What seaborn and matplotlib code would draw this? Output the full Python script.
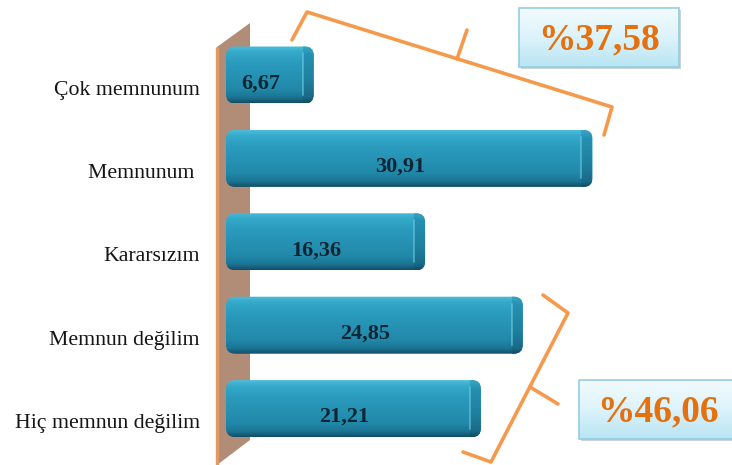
import numpy as np
import pandas as pd
import seaborn as sns
import matplotlib
matplotlib.use("Agg")
import matplotlib.pyplot as plt
from matplotlib.patches import Polygon, FancyBboxPatch, Rectangle
from matplotlib.colors import LinearSegmentedColormap

# ---------------- data ----------------
categories = ["Çok memnunum", "Memnunum ", "Kararsızım", "Memnun değilim", "Hiç memnun değilim"]
values = [6.67, 30.91, 16.36, 24.85, 21.21]
value_labels = ["6,67", "30,91", "16,36", "24,85", "21,21"]
group_labels = ["%37,58", "%46,06"]

# ---------------- layout helpers (pixel -> data) ----------------
W, H = 732, 465
X0, SX = 226.0, 11.5      # pixel of value 0, pixels per unit
Y0, SY = 75.0, 83.4       # pixel of first category centre, pixels per category


def P(px, py):
    return ((px - X0) / SX, (py - Y0) / SY)


sns.set_theme(style="white")
plt.rcParams["font.family"] = ["Liberation Serif", "DejaVu Serif"]

fig = plt.figure(figsize=(W / 100, H / 100), dpi=100)
fig.patch.set_facecolor("white")
ax = fig.add_axes([0, 0, 1, 1])
ax.set_facecolor("white")

BAR_H = 57 / SY
df = pd.DataFrame({"cat": categories, "val": values})
sns.barplot(data=df, x="val", y="cat", orient="h", width=BAR_H,
            color="#2796b8", ax=ax, zorder=3)
bar_patches = [p for p in ax.patches if isinstance(p, Rectangle)]

xlim = ((0 - X0) / SX, (W - X0) / SX)
ylim = ((H - Y0) / SY, (0 - Y0) / SY)

# ---------------- wall ----------------
wall = Polygon([P(217, 47), P(250, 23), P(250, 440), P(217, 465)], closed=True,
               facecolor="#b18c76", edgecolor="none", zorder=1)
ax.add_patch(wall)
ax.plot(*zip(P(217.5, 47), P(217.5, 465)), color="#e39a62", lw=2.4, zorder=1.5,
        solid_capstyle="butt")

# ---------------- 3D-looking bars ----------------
bar_cmap = LinearSegmentedColormap.from_list(
    "bar", [(0, "#4fbcdb"), (0.10, "#35aacb"), (0.3, "#2a9bbd"),
            (0.75, "#2289aa"), (0.9, "#1b7594"), (1, "#114e65")])
cap_cmap = LinearSegmentedColormap.from_list(
    "cap", [(0, "#3aa6c6"), (0.15, "#2690b2"), (0.6, "#1f7f9e"),
            (0.9, "#186a87"), (1, "#0f4a60")])
grad = np.linspace(0, 1, 256).reshape(-1, 1)
CAP = 11 / SX
R = 9 / SX
ASPECT = SX / SY

for i, p in enumerate(bar_patches):
    x0, y0, w, h = p.get_x(), p.get_y(), p.get_width(), p.get_height()
    p.set_facecolor("none")
    p.set_edgecolor("none")
    box = FancyBboxPatch((x0, y0), w + CAP, h,
                         boxstyle=f"round,pad=0,rounding_size={R}",
                         mutation_aspect=ASPECT, transform=ax.transData,
                         facecolor="none", edgecolor="none", zorder=3)
    ax.add_patch(box)
    im = ax.imshow(grad, cmap=bar_cmap, extent=(x0, x0 + w + CAP, y0 + h, y0),
                   aspect="auto", zorder=3, interpolation="bilinear")
    im.set_clip_path(box)
    im2 = ax.imshow(grad, cmap=cap_cmap, extent=(x0 + w, x0 + w + CAP, y0 + h, y0),
                    aspect="auto", zorder=3.1, interpolation="bilinear")
    im2.set_clip_path(box)
    ax.plot([x0 + w, x0 + w], [y0 + 0.12 * h, y0 + 0.85 * h], color="#6fcde6",
            lw=1.3, alpha=0.6, zorder=3.2)
    # value label
    ax.text(w / 2 - 0.35, y0 + h / 2 + 0.1, value_labels[i], ha="center",
            va="center", fontsize=16, fontweight="bold", color="#0e2633",
            zorder=4)

# ---------------- category labels ----------------
for i, cat in enumerate(categories):
    ax.text(P(200, 0)[0], i + 0.18, cat, ha="right", va="center",
            fontsize=15.7, color="#151515", zorder=4)

# ---------------- brackets ----------------
BR = dict(color="#f59a4c", lw=2.6, solid_capstyle="round",
          solid_joinstyle="round", zorder=2)
top_br = [P(292, 40), P(307, 12), P(612, 107), P(604, 135)]
ax.plot(*zip(*top_br), **BR)
ax.plot(*zip(P(457, 59), P(467, 30)), **BR)

bot_br = [P(543, 295), P(568, 313), P(491, 462), P(463, 452)]
ax.plot(*zip(*bot_br), **BR)
ax.plot(*zip(P(530, 387), P(558, 404)), **BR)

# ---------------- percentage boxes ----------------
box_cmap = LinearSegmentedColormap.from_list(
    "box", [(0, "#f2fbfe"), (0.5, "#dcf3fb"), (1, "#b8e4f3")])


def pct_box(px0, py0, px1, py1, text, tx, ty):
    (bx0, by0), (bx1, by1) = P(px0, py0), P(px1, py1)
    sh = Rectangle((bx0 + 2 / SX, by0 + 2 / SY), bx1 - bx0, by1 - by0,
                   facecolor="#c8d4d8", edgecolor="none", zorder=4)
    ax.add_patch(sh)
    rect = Rectangle((bx0, by0), bx1 - bx0, by1 - by0, facecolor="none",
                     edgecolor="#94cde3", lw=1.2, zorder=4.2)
    ax.add_patch(rect)
    im = ax.imshow(grad, cmap=box_cmap, extent=(bx0, bx1, by1, by0),
                   aspect="auto", zorder=4.1, interpolation="bilinear")
    im.set_clip_path(Rectangle((bx0, by0), bx1 - bx0, by1 - by0,
                               transform=ax.transData))
    ax.text(*P(tx, ty), text, ha="center", va="center", fontsize=27,
            fontweight="bold", color="#e4700e", zorder=5)


pct_box(519, 8, 679, 67, group_labels[0], 599, 40)
pct_box(579, 380, 740, 439, group_labels[1], 658, 412)

ax.set_xlim(*xlim)
ax.set_ylim(*ylim)
ax.axis("off")

fig.savefig("out.png", dpi=100, facecolor="white")
